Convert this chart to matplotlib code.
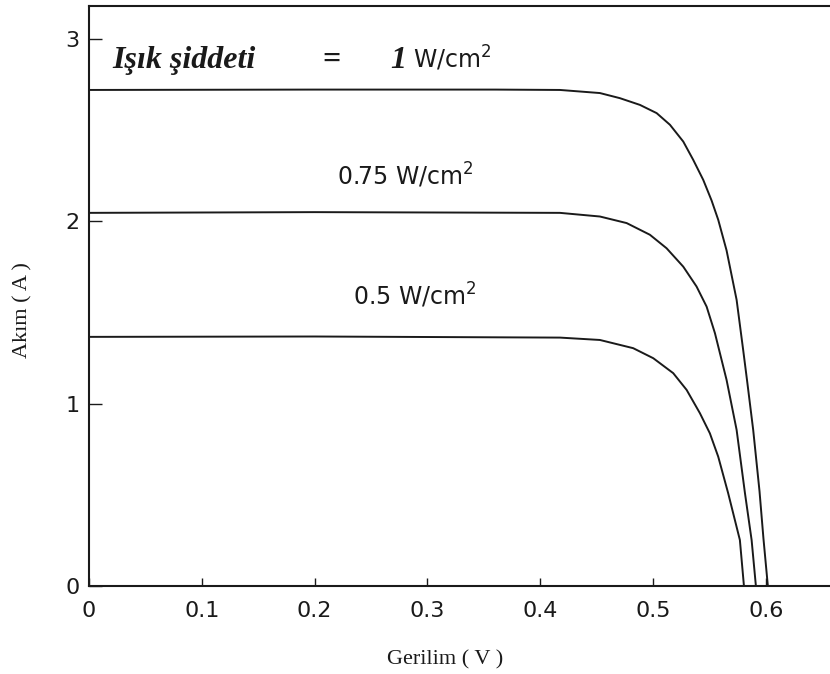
import matplotlib
matplotlib.use('Agg')
import matplotlib.pyplot as plt

# okunan I-V egrileri (Gerilim V, Akim A)
v_100 = [0.0, 0.20, 0.36, 0.4176, 0.453, 0.4707, 0.4885, 0.5033, 0.5151, 0.5269, 0.5357, 0.5446,
         0.552, 0.5579, 0.5653, 0.5742, 0.580, 0.5835, 0.5889, 0.5945, 0.5980, 0.6019]
i_100 = [2.72, 2.722, 2.722, 2.72, 2.703, 2.675, 2.638, 2.593, 2.529, 2.437, 2.337, 2.227,
         2.114, 2.008, 1.840, 1.569, 1.295, 1.125, 0.856, 0.52, 0.26, 0.0]

v_75 = [0.0, 0.20, 0.4176, 0.453, 0.4767, 0.4973, 0.5121, 0.5269, 0.5387, 0.5476, 0.555,
        0.5653, 0.5742, 0.5816, 0.5875, 0.5913]
i_75 = [2.046, 2.05, 2.046, 2.026, 1.990, 1.926, 1.852, 1.751, 1.642, 1.532, 1.386,
        1.130, 0.856, 0.509, 0.252, 0.0]

v_50 = [0.0, 0.20, 0.4176, 0.453, 0.4825, 0.5003, 0.518, 0.5299, 0.5417, 0.5505, 0.5579,
        0.5667, 0.5771, 0.5807]
i_50 = [1.366, 1.368, 1.362, 1.349, 1.304, 1.249, 1.167, 1.075, 0.947, 0.837, 0.709,
        0.509, 0.252, 0.0]

xticks = [0, 0.1, 0.2, 0.3, 0.4, 0.5, 0.6]
xticklabels = ['0', '0.1', '0.2', '0.3', '0.4', '0.5', '0.6']
yticks = [0, 1, 2, 3]

ink = '#1a1a1a'
fig = plt.figure(figsize=(8.3, 6.74), dpi=100)
ax = fig.add_axes([0.1072, 0.1306, 0.8928, 0.8604])

for v, i in [(v_100, i_100), (v_75, i_75), (v_50, i_50)]:
    ax.plot(v, i, color=ink, lw=1.4, solid_joinstyle='round')

ax.set_xlim(0, 0.657)
ax.set_ylim(0, 3.18)
ax.set_xticks(xticks)
ax.set_xticklabels(xticklabels)
ax.set_yticks(yticks)
ax.spines['right'].set_visible(False)
for s in ['left', 'bottom', 'top']:
    ax.spines[s].set_linewidth(1.5)
    ax.spines[s].set_color(ink)
ax.tick_params(axis='x', direction='in', length=6, width=1, pad=11, labelsize=16, colors=ink)
ax.tick_params(axis='y', direction='in', length=9, width=1, pad=7, labelsize=16, colors=ink)

ax.text(0.021, 2.842, 'Işık şiddeti', family='Liberation Serif', style='italic',
        weight='bold', fontsize=23, color=ink)
ax.text(0.2066, 2.842, '=', family='Liberation Serif', weight='bold', fontsize=23, color=ink)
ax.text(0.267, 2.842, '1', family='Liberation Serif', style='italic', weight='bold',
        fontsize=23, color=ink)
ax.text(0.287, 2.842, 'W/cm$^2$', fontsize=17, color=ink)
ax.text(0.22, 2.20, '0.75 W/cm$^2$', fontsize=17, color=ink)
ax.text(0.234, 1.541, '0.5 W/cm$^2$', fontsize=17, color=ink)

fig.text(445 / 830, 1 - 660 / 674, 'Gerilim ( V )', family='Liberation Serif', fontsize=16,
         ha='center', va='center', color=ink)
fig.text(23 / 830, 1 - 310 / 674, 'Akım ( A )', family='Liberation Serif', fontsize=16,
         ha='center', va='center', rotation=90, color=ink)

fig.savefig('out.png', dpi=100)
